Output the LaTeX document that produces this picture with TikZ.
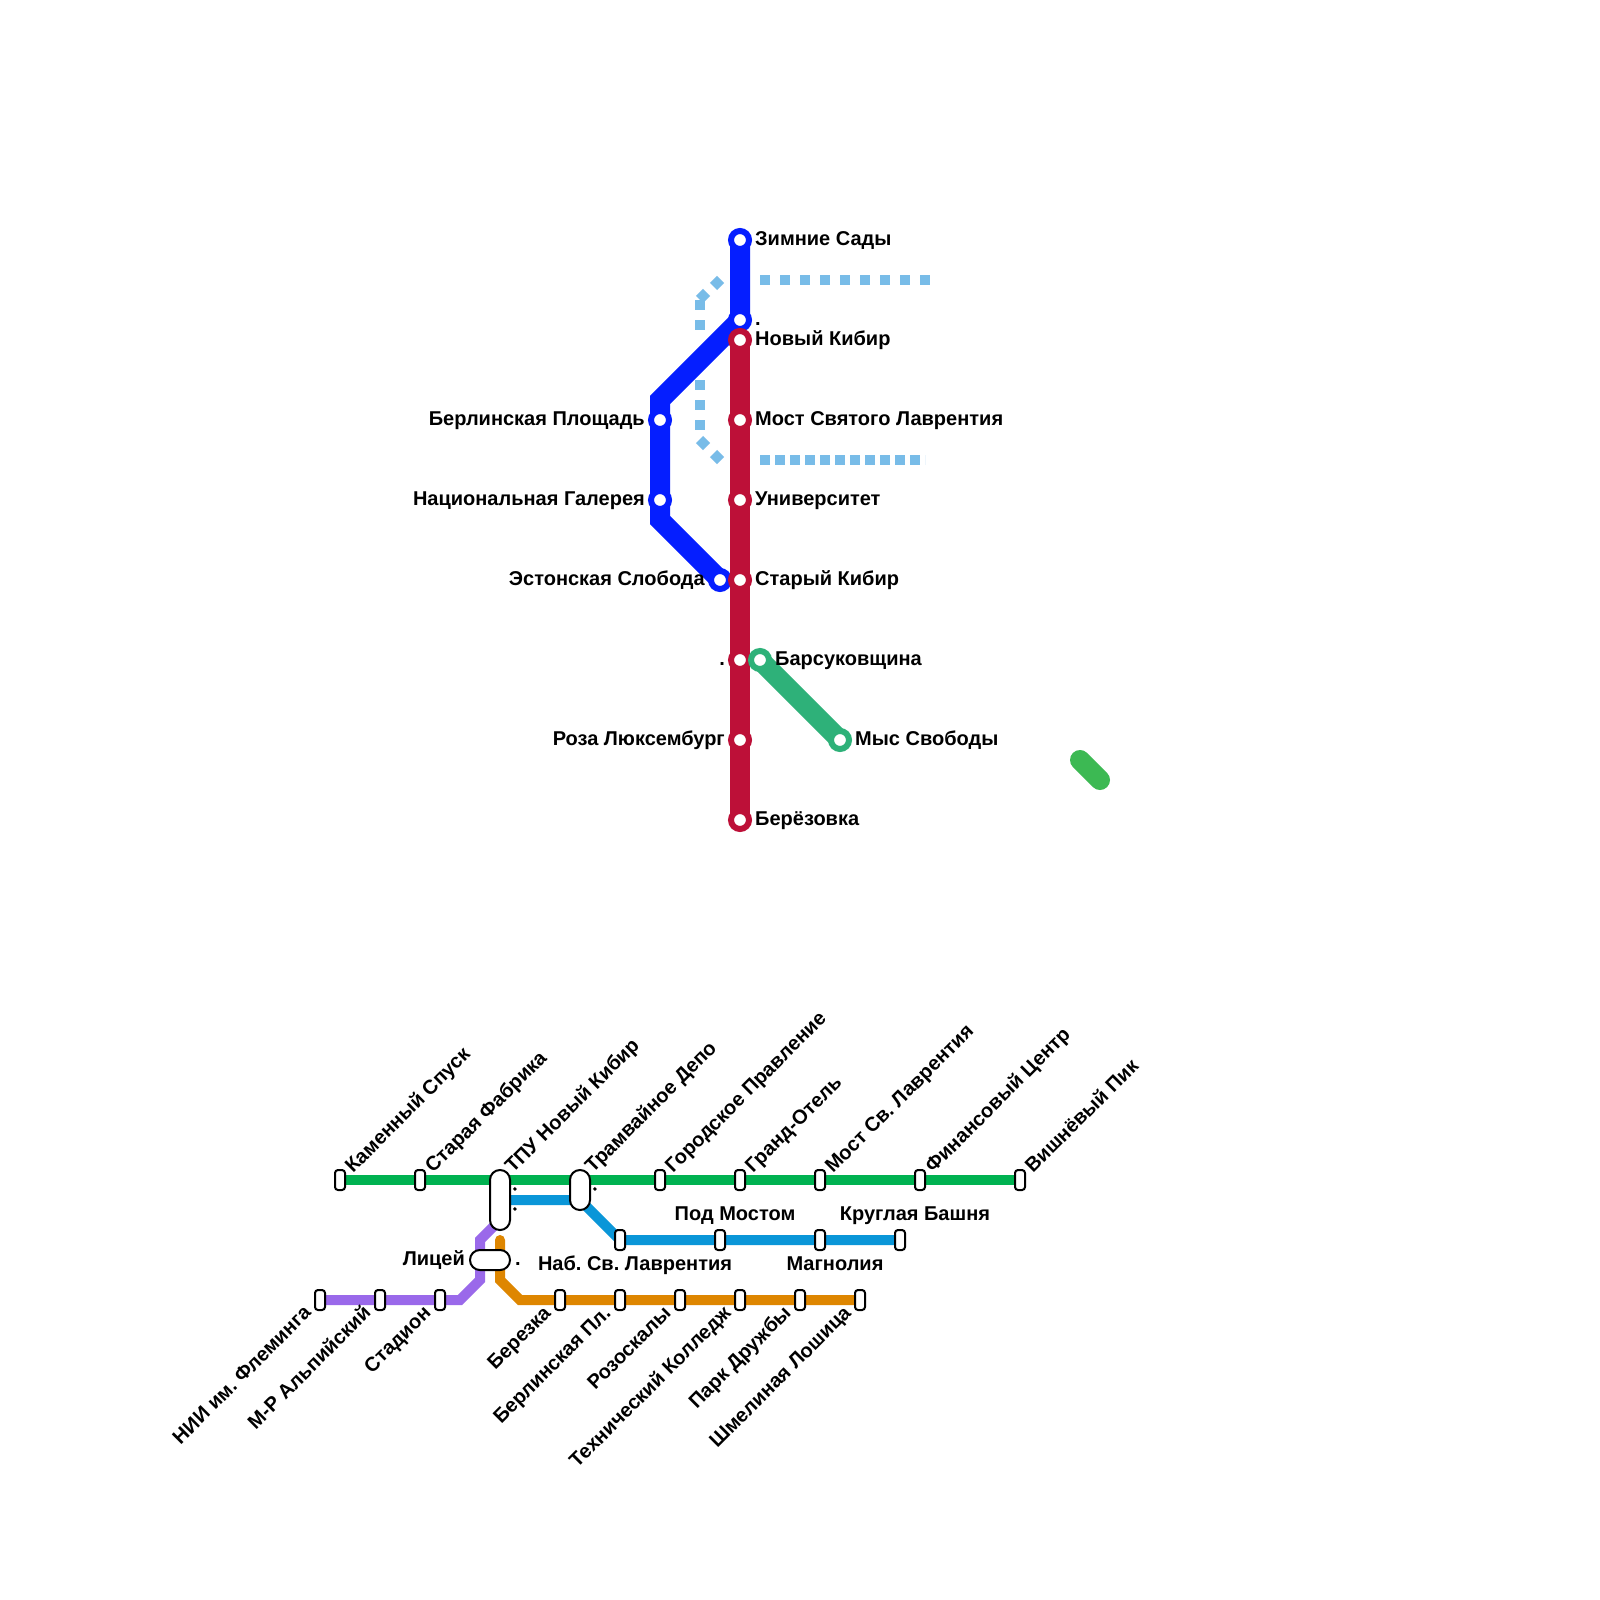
\documentclass[tikz,border=0pt]{standalone}
\usepackage{fontspec}
\setmainfont{Liberation Sans}
\frenchspacing
\definecolor{cblue}{HTML}{051EFF}
\definecolor{cred}{HTML}{BD1038}
\definecolor{cteal}{HTML}{2EB179}
\definecolor{cgreen}{HTML}{00B251}
\definecolor{ccyan}{HTML}{0A96D8}
\definecolor{cpurple}{HTML}{9A69EA}
\definecolor{corange}{HTML}{DE8600}
\definecolor{cdot}{HTML}{78BCE8}
\definecolor{clime}{HTML}{3CB953}
\tikzset{
  big/.style={line width=20pt,line join=miter},
  thin/.style={line width=10pt,line join=miter},
  dots/.style={line width=10pt,cdot,dash pattern=on 10pt off 10pt},
  ring/.style={circle,draw=#1,fill=white,line width=6pt,minimum size=18pt,inner sep=0pt},
  halt/.style={draw=black,fill=white,line width=2pt,rounded corners=3pt,minimum width=10pt,minimum height=20pt,inner sep=0pt},
  pill/.style={draw=black,fill=white,line width=2pt,rounded corners=9.9pt,inner sep=0pt},
  lab/.style={font=\fontsize{20}{22}\selectfont\bfseries,inner sep=0pt,text=black},
  lr/.style={lab,anchor=base west},
  ll/.style={lab,anchor=base east},
  lm/.style={lab,anchor=base},
  lup/.style={lab,anchor=base west,rotate=45},
  ldn/.style={lab,anchor=base east,rotate=45},
}
\begin{document}
\begin{tikzpicture}[x=1pt,y=-1pt]
\useasboundingbox (0,0) rectangle (1600,1600);
\fill[white] (0,0) rectangle (1600,1600);
% coordinates: upper scheme
\coordinate (z) at (740,240); \coordinate (nb) at (740,320); \coordinate (nk) at (740,340);
\coordinate (b1) at (660,400); \coordinate (bp) at (660,420); \coordinate (ng) at (660,500);
\coordinate (b2) at (660,520); \coordinate (es) at (720,580);
\coordinate (ml) at (740,420); \coordinate (un) at (740,500); \coordinate (sk) at (740,580);
\coordinate (rd) at (740,660); \coordinate (rl) at (740,740); \coordinate (br) at (740,820);
\coordinate (bs) at (760,660); \coordinate (ms) at (840,740);
\coordinate (g1) at (1080,760); \coordinate (g2) at (1100,780);
% dotted lines
\coordinate (d1) at (760,280); \coordinate (d2) at (940,280);
\coordinate (d3) at (760,460); \coordinate (d4) at (925,460);
\coordinate (d5) at (700,300); \coordinate (d6) at (700,330);
\coordinate (d7) at (700,380); \coordinate (d8) at (700,430);
\coordinate (e1) at (720.5,279.5); \coordinate (e2) at (713.5,286.5);
\coordinate (e3) at (706.5,292.5); \coordinate (e4) at (699.5,299.5);
\coordinate (e5) at (699.5,439.5); \coordinate (e6) at (706.5,446.5);
\coordinate (e7) at (713.5,453.5); \coordinate (e8) at (720.5,460.5);
\draw[dots] (d1) -- (d2);
\draw[cdot,line width=10pt,dash pattern=on 10pt off 5pt] (d3) -- (d4);
\draw[dots] (d5) -- (d6);
\draw[dots] (d7) -- (d8);
\draw[cdot,line width=10pt] (e1) -- (e2);
\draw[cdot,line width=10pt] (e3) -- (e4);
\draw[cdot,line width=10pt] (e5) -- (e6);
\draw[cdot,line width=10pt] (e7) -- (e8);
% blue
\draw[big,cblue] (z) -- (nb) -- (b1) -- (b2) -- (es);
\node[ring=cblue] (sz) at (z) {};
\node[ring=cblue] (snb) at (nb) {};
\node[ring=cblue] (sbp) at (bp) {};
\node[ring=cblue] (sng) at (ng) {};
\node[ring=cblue] (ses) at (es) {};
% red
\draw[big,cred] (nk) -- (br);
\foreach \n in {nk,ml,un,sk,rd,rl,br}{\node[ring=cred] (s\n) at (\n) {};}
% teal
\draw[big,cteal] (bs) -- (ms);
\node[ring=cteal] (sbs) at (bs) {};
\node[ring=cteal] (sms) at (ms) {};
\draw[big,clime,line cap=round] (g1) -- (g2);
% labels upper
\node[lr] (t1) at (755,245) {Зимние Сады};
\node[lr] (t2) at (755,325) {.};
\node[lr] (t3) at (755,345) {Новый Кибир};
\node[lr] (t4) at (755,425) {Мост Святого Лаврентия};
\node[lr] (t5) at (755,505) {Университет};
\node[lr] (t6) at (755,585) {Старый Кибир};
\node[lr] (t7) at (775,665) {Барсуковщина};
\node[lr] (t8) at (855,745) {Мыс Свободы};
\node[lr] (t9) at (755,825) {Берёзовка};
\node[ll] (t10) at (645,425) {Берлинская Площадь};
\node[ll] (t11) at (645,505) {Национальная Галерея};
\node[ll] (t12) at (705,585) {Эстонская Слобода};
\node[ll] (t13) at (725,665) {.};
\node[ll] (t14) at (725,745) {Роза Люксембург};
% lower scheme coordinates
\coordinate (a1) at (340,1180); \coordinate (a2) at (420,1180); \coordinate (a3) at (660,1180);
\coordinate (a4) at (740,1180); \coordinate (a5) at (820,1180); \coordinate (a6) at (920,1180);
\coordinate (a7) at (1020,1180);
\coordinate (c0) at (500,1200); \coordinate (c1) at (580,1200); \coordinate (c2) at (620,1240);
\coordinate (c3) at (720,1240); \coordinate (c4) at (820,1240); \coordinate (c5) at (900,1240);
\coordinate (p1) at (320,1300); \coordinate (p2) at (380,1300); \coordinate (p3) at (440,1300);
\coordinate (p4) at (460,1300); \coordinate (p5) at (480,1280); \coordinate (p6) at (480,1240);
\coordinate (p7) at (500,1220);
\coordinate (o1) at (500,1240); \coordinate (o2) at (500,1280); \coordinate (o3) at (520,1300);
\coordinate (o4) at (560,1300); \coordinate (o5) at (620,1300); \coordinate (o6) at (680,1300);
\coordinate (o7) at (740,1300); \coordinate (o8) at (800,1300); \coordinate (o9) at (860,1300);
\draw[thin,cgreen] (a1) -- (a7);
\draw[thin,ccyan] (c0) -- (c1) -- (c2) -- (c5);
\draw[thin,cpurple] (p1) -- (p4) -- (p5) -- (p6) -- (p7);
\draw[thin,corange,line cap=round] (o1) -- (o2) -- (o3) -- (o9);
\foreach \n in {a1,a2,a3,a4,a5,a6,a7,c2,c3,c4,c5,p1,p2,p3,o4,o5,o6,o7,o8,o9}{\node[halt] (h\n) at (\n) {};}
\node[pill,minimum width=20pt,minimum height=60pt] (i1) at (500,1200) {};
\node[pill,minimum width=20pt,minimum height=40pt] (i2) at (580,1190) {};
\node[pill,minimum width=40pt,minimum height=20pt] (i3) at (490,1260) {};
% rotated labels up
\node[lup] (u1) at (353,1174) {Каменный Спуск};
\node[lup] (u2) at (433,1174) {Старая Фабрика};
\node[lup] (u3) at (513,1174) {ТПУ Новый Кибир};
\node[lup] (u4) at (593,1174) {Трамвайное Депо};
\node[lup] (u5) at (673,1174) {Городское Правление};
\node[lup] (u6) at (753,1174) {Гранд-Отель};
\node[lup] (u7) at (833,1174) {Мост Св. Лаврентия};
\node[lup] (u8) at (933,1174) {Финансовый Центр};
\node[lup] (u9) at (1033,1174) {Вишнёвый Пик};
\node[lup] (u10) at (514,1193) {.};
\node[lup] (u11) at (514,1213) {.};
\node[lup] (u12) at (594,1193) {.};
\node[ldn] (v1) at (312,1314) {НИИ им. Флеминга};
\node[ldn] (v2) at (372,1314) {М-Р Альпийский};
\node[ldn] (v3) at (432,1314) {Стадион};
\node[ldn] (v4) at (552,1314) {Березка};
\node[ldn] (v5) at (612,1314) {Берлинская Пл.};
\node[ldn] (v6) at (672,1314) {Розоскалы};
\node[ldn] (v7) at (732,1314) {Технический Колледж};
\node[ldn] (v8) at (792,1314) {Парк Дружбы};
\node[ldn] (v9) at (852,1314) {Шмелиная Лошица};
\node[ll] (w1) at (465,1265) {Лицей};
\node[lr] (w2) at (515,1265) {.};
\node[lm] (w3) at (635,1270) {Наб. Св. Лаврентия};
\node[lm] (w4) at (735,1220) {Под Мостом};
\node[lm] (w5) at (915,1220) {Круглая Башня};
\node[lm] (w6) at (835,1270) {Магнолия};
\end{tikzpicture}
\end{document}
